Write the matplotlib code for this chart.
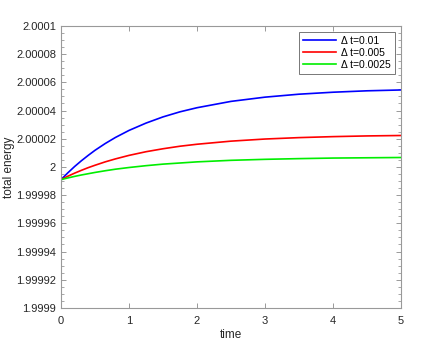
import numpy as np
import matplotlib
matplotlib.use("Agg")
import matplotlib.pyplot as plt
from matplotlib.ticker import MultipleLocator

plt.rcParams['font.family'] = ['Liberation Sans', 'DejaVu Sans']

# energy values (offset from 2, in units of 1e-5)
t = [0, 0.05, 0.1, 0.2, 0.3, 0.4, 0.5, 0.65, 0.8, 1.0, 1.25, 1.5, 1.75,
     2.0, 2.5, 3.0, 3.5, 4.0, 4.5, 5.0]
e_dt01 = [-0.9, -0.66, -0.42, 0.03, 0.44, 0.82, 1.18, 1.66, 2.09, 2.59, 3.11,
          3.55, 3.91, 4.20, 4.65, 4.95, 5.16, 5.30, 5.40, 5.46]
e_dt005 = [-0.9, -0.78, -0.66, -0.44, -0.24, -0.05, 0.12, 0.36, 0.57, 0.82, 1.08,
           1.29, 1.47, 1.61, 1.83, 1.98, 2.08, 2.15, 2.20, 2.23]
e_dt0025 = [-0.9, -0.84, -0.78, -0.67, -0.57, -0.48, -0.39, -0.27, -0.16, -0.04, 0.09,
            0.20, 0.28, 0.36, 0.47, 0.54, 0.59, 0.63, 0.65, 0.67]
labels = ['\u0394 t=0.01', '\u0394 t=0.005', '\u0394 t=0.0025']
colors = ['#0000ff', '#ff0000', '#00ee00']
yticks = [1.9999, 1.99992, 1.99994, 1.99996, 1.99998, 2, 2.00002, 2.00004, 2.00006, 2.00008, 2.0001]
yticklabels = ['1.9999', '1.99992', '1.99994', '1.99996', '1.99998', '2',
               '2.00002', '2.00004', '2.00006', '2.00008', '2.0001']

fig = plt.figure(figsize=(4.43, 3.46), dpi=100)
ax = fig.add_axes([0.1377, 0.110, 0.7675, 0.815])

for series, c, lab in zip([e_dt01, e_dt005, e_dt0025], colors, labels):
    ax.plot(t, 2 + np.array(series) * 1e-5, color=c, lw=1.2, label=lab)

ax.set_xlim(0, 5)
ax.set_ylim(1.9999, 2.0001)
ax.set_yticks(yticks)
ax.set_yticklabels(yticklabels)
ax.yaxis.set_minor_locator(MultipleLocator(0.000005))
ax.set_xticks([0, 1, 2, 3, 4, 5])

for s in ax.spines.values():
    s.set_color('#999999')
    s.set_linewidth(0.8)
ax.tick_params(which='both', direction='in', top=True, right=True,
               color='#999999', labelsize=8, labelcolor='#262626')
ax.tick_params(which='major', length=3.5, width=0.7)
ax.tick_params(which='minor', length=2, width=0.6)
ax.tick_params(axis='x', pad=6)

ax.set_xlabel('time', fontsize=8.5, color='#262626', labelpad=2)
ax.set_ylabel('total energy', fontsize=8.5, color='#262626', labelpad=1)

leg = ax.legend(loc='upper right', fontsize=7.5, handlelength=3.2, handletextpad=0.5,
                borderaxespad=0.6, borderpad=0.35, labelspacing=0.2,
                fancybox=False, framealpha=1)
leg.get_frame().set_edgecolor('#777777')
leg.get_frame().set_linewidth(0.7)

fig.savefig('out.png', dpi=100)
